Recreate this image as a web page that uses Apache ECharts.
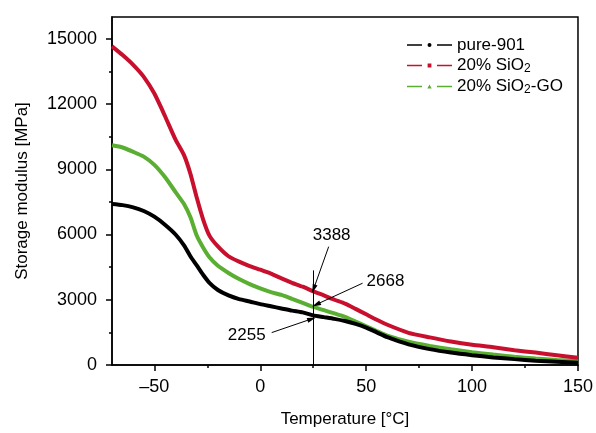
<!DOCTYPE html>
<html>
<head>
<meta charset="utf-8">
<script src="https://cdn.jsdelivr.net/npm/echarts@6/dist/echarts.min.js"></script>
<style>
  html, body { margin: 0; padding: 0; background: #fff; }
  #chart { width: 596px; height: 433px; }
</style>
</head>
<body>
<div id="chart"></div>
<script>
const temps = [-70, -65, -60, -55, -50, -45, -40, -36, -33, -30, -27, -24, -20, -15, -10, -5, 0, 5, 10, 15, 20, 25, 30, 35, 40, 45, 50, 55, 60, 70, 80, 90, 100, 110, 120, 130, 140, 150];
const pure901 = [7400, 7350, 7250, 7080, 6820, 6450, 6000, 5500, 5000, 4580, 4150, 3780, 3450, 3200, 3030, 2920, 2800, 2700, 2600, 2500, 2420, 2280, 2200, 2120, 2020, 1890, 1720, 1500, 1280, 950, 730, 570, 450, 350, 270, 200, 150, 100];
const sio2 = [14650, 14250, 13800, 13250, 12480, 11450, 10360, 9650, 8800, 7700, 6700, 5950, 5450, 5000, 4750, 4550, 4380, 4200, 3980, 3780, 3600, 3388, 3200, 3000, 2820, 2580, 2330, 2080, 1850, 1480, 1270, 1080, 930, 820, 680, 570, 450, 330];
const sio2GO = [10100, 10000, 9800, 9580, 9200, 8640, 7950, 7400, 6800, 5950, 5400, 4950, 4560, 4230, 3950, 3720, 3520, 3350, 3220, 3040, 2860, 2668, 2520, 2370, 2210, 2000, 1780, 1560, 1350, 1070, 880, 720, 590, 480, 380, 300, 230, 180];

const seriesNames = ["pure-901", "20% SiO2", "20% SiO2-GO"];
const seriesColors = ["#000000", "#c8102e", "#5aae32"];

const xMajorTicks = [-50, 0, 50, 100, 150];
const xMinorTicks = [-25, 25, 75, 125];
const yMajorTicks = [0, 3000, 6000, 9000, 12000, 15000];
const yMinorTicks = [1500, 4500, 7500, 10500, 13500];

// annotation: [text, textX, textY, arrowFromX, arrowFromY, arrowToX, arrowToY, align]
const notes = [
  ["3388", 33.7, 5940, 32.3, 5440, 25.2, 3500, "center"],
  ["2668", 50.2, 3850, 48.3, 3760, 26.4, 2780, "left"],
  ["2255", -6.4, 1350, 5.4, 1490, 24.3, 2120, "center"]
];
const markerT = 25;
const markerTop = 4350;

const legendIcons = [
  "path://M0,1.2H15V2.8H0Z M30,1.2H45V2.8H30Z M20.5,2A2,2 0 1 0 24.5,2A2,2 0 1 0 20.5,2Z",
  "path://M0,1.2H15V2.8H0Z M30,1.2H45V2.8H30Z M20.6,0.1H24.4V3.9H20.6Z",
  "path://M0,1.2H15V2.8H0Z M30,1.2H45V2.8H30Z M22.5,0L24.7,4H20.3Z"
];

const font = "Liberation Sans";

const chart = echarts.init(document.getElementById("chart"));

function pairs(ys) {
  return temps.map((t, i) => [t, ys[i]]);
}

const arrowLines = notes.map((n) => [
  { coord: [n[3], n[4]], symbol: "none" },
  { coord: [n[5], n[6]], symbol: "triangle", symbolSize: [5, 9] }
]);
arrowLines.push([
  { coord: [markerT, markerTop], symbol: "none" },
  { coord: [markerT, 0], symbol: "none" }
]);

const noteTexts = notes.map((n) => ({
  coord: [n[1], n[2]],
  value: n[0],
  label: { align: n[7] }
}));

const allSeries = [pure901, sio2, sio2GO].map((ys, i) => ({
  name: seriesNames[i],
  type: "line",
  data: pairs(ys),
  showSymbol: false,
  smooth: 0.2,
  lineStyle: { color: seriesColors[i], width: 4 },
  itemStyle: { color: seriesColors[i] },
  z: 3 - i
}));

allSeries[0].markLine = {
  silent: true,
  animation: false,
  label: { show: false },
  lineStyle: { color: "#000", width: 1, type: "solid" },
  data: arrowLines
};
allSeries[0].markPoint = {
  silent: true,
  animation: false,
  symbol: "circle",
  symbolSize: 0,
  label: {
    show: true,
    position: "inside",
    color: "#000",
    fontFamily: font,
    fontSize: 17,
    formatter: (p) => p.value
  },
  data: noteTexts
};

const option = {
  animation: false,
  textStyle: { fontFamily: font },
  grid: {
    left: 112,
    right: 17,
    top: 17,
    bottom: 65,
    show: true,
    borderColor: "#000",
    borderWidth: 1.5
  },
  legend: {
    orient: "vertical",
    left: 402,
    top: 31,
    itemWidth: 45,
    itemHeight: 4,
    itemGap: 2,
    data: seriesNames.map((n, i) => ({ name: n, icon: legendIcons[i] })),
    formatter: (n) => n.replace("SiO2", "SiO{sub|2}"),
    textStyle: {
      fontFamily: font,
      fontSize: 17,
      color: "#000",
      lineHeight: 18,
      rich: {
        sub: { fontSize: 12, lineHeight: 18, padding: [7, 0, 0, 0], fontFamily: font, color: "#000" }
      }
    }
  },
  xAxis: [
    {
      type: "value",
      min: -70,
      max: 150,
      name: "Temperature [°C]",
      nameLocation: "middle",
      nameGap: 46,
      nameTextStyle: { fontFamily: font, fontSize: 17, color: "#000" },
      axisLine: { onZero: false, lineStyle: { color: "#000", width: 1.5 } },
      axisTick: { customValues: xMajorTicks, length: 6, lineStyle: { color: "#000", width: 1.5 } },
      axisLabel: {
        customValues: xMajorTicks,
        margin: 13,
        fontFamily: font,
        fontSize: 18,
        color: "#000",
        formatter: (v) => String(v).replace("-", "\u2013")
      },
      splitLine: { show: false }
    },
    {
      type: "value",
      min: -70,
      max: 150,
      position: "bottom",
      axisLine: { show: false, onZero: false },
      axisTick: { customValues: xMinorTicks, length: 3, lineStyle: { color: "#000", width: 1.5 } },
      axisLabel: { show: false },
      splitLine: { show: false }
    }
  ],
  yAxis: [
    {
      type: "value",
      min: 0,
      max: 16000,
      name: "Storage modulus [MPa]",
      nameLocation: "middle",
      nameGap: 81,
      nameTextStyle: { fontFamily: font, fontSize: 17, color: "#000" },
      axisLine: { show: true, onZero: false, lineStyle: { color: "#000", width: 1.5 } },
      axisTick: { show: true, customValues: yMajorTicks, length: 6, lineStyle: { color: "#000", width: 1.5 } },
      axisLabel: {
        customValues: yMajorTicks,
        margin: 15,
        fontFamily: font,
        fontSize: 18,
        color: "#000",
        formatter: (v) => String(v)
      },
      splitLine: { show: false }
    },
    {
      type: "value",
      min: 0,
      max: 16000,
      position: "left",
      axisLine: { show: false, onZero: false },
      axisTick: { show: true, customValues: yMinorTicks, length: 3, lineStyle: { color: "#000", width: 1.5 } },
      axisLabel: { show: false },
      splitLine: { show: false }
    }
  ],
  series: allSeries
};

chart.setOption(option);
</script>
</body>
</html>
